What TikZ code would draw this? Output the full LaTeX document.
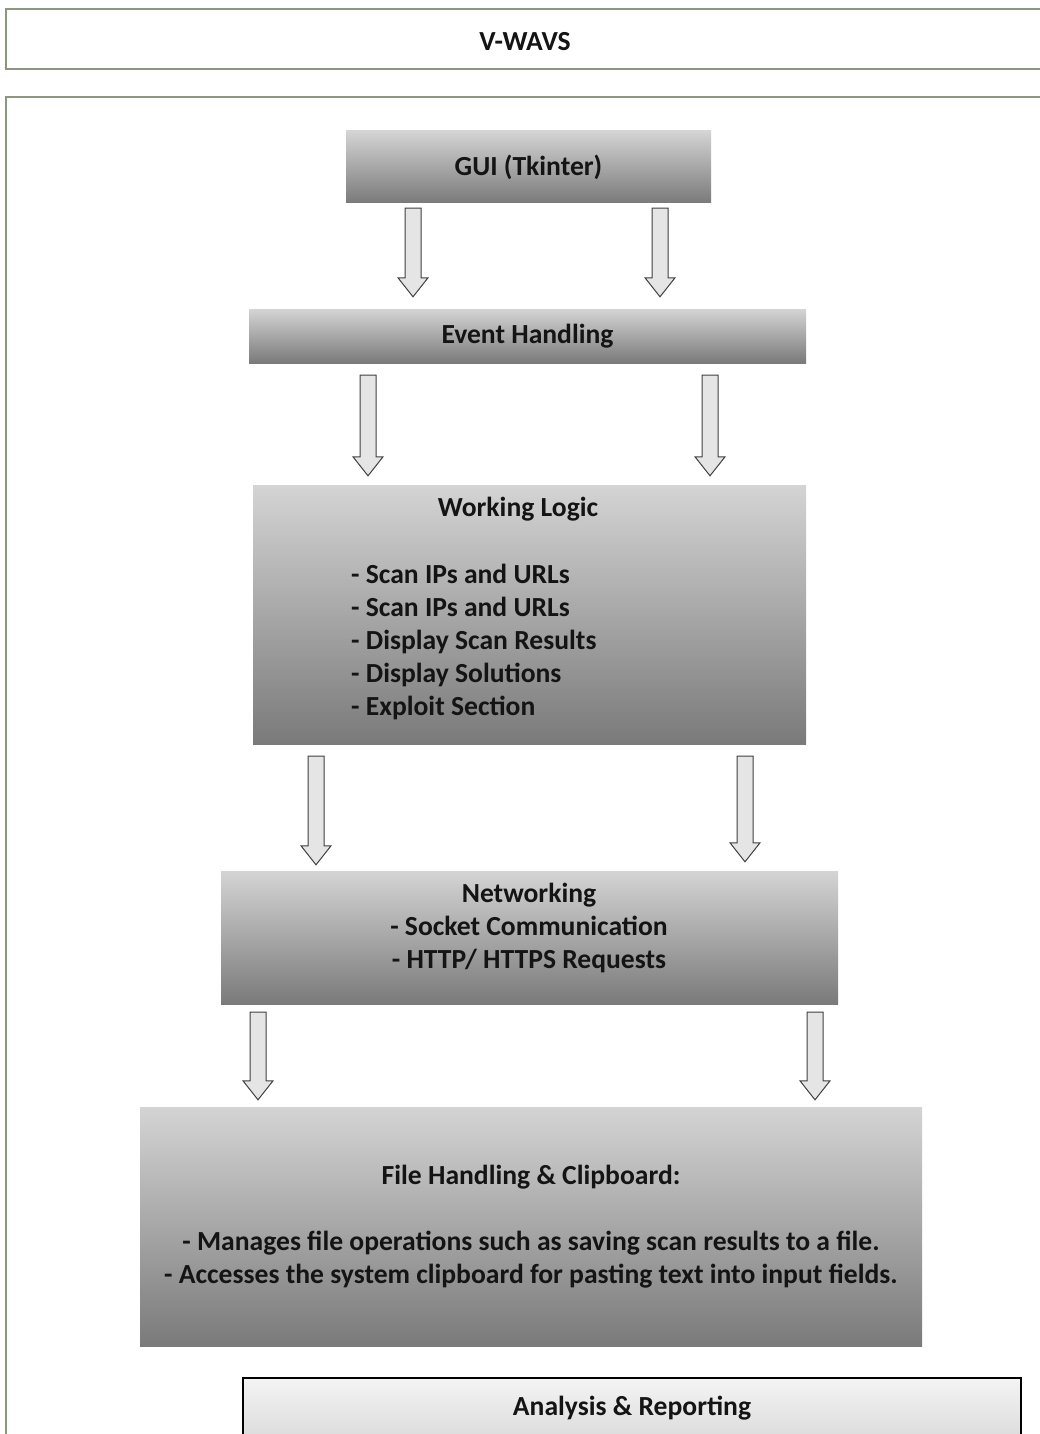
\documentclass[tikz,border=0pt]{standalone}
\usepackage{fontspec}
\setmainfont{Carlito}
\usetikzlibrary{calc}
\definecolor{frame}{RGB}{138,152,128}
\definecolor{boxtop}{RGB}{212,212,212}
\definecolor{boxbot}{RGB}{122,122,122}
\definecolor{anatop}{RGB}{244,244,244}
\definecolor{anabot}{RGB}{212,212,212}
\tikzset{
  panel/.style={draw=frame, line width=1.6pt, fill=white},
  gbox/.style={rectangle, inner sep=0pt, top color=boxtop, bottom color=boxbot, draw=none},
  lbl/.style={inner sep=0pt, font=\bfseries\fontsize{27.6}{33}\selectfont, align=center, text=black!92},
  bigarrow/.style={draw=black!75, line width=1pt, fill=black!10, line join=miter,
    to path={let \p1=(\tikztostart), \p2=(\tikztotarget) in
      (\x1-8pt,\y1) -- (\x1+8pt,\y1) -- (\x1+8pt,\y2+19pt) -- (\x1+15pt,\y2+19pt)
      -- (\x1,\y2) -- (\x1-15pt,\y2+19pt) -- (\x1-8pt,\y2+19pt) -- cycle}},
}
\begin{document}
\begin{tikzpicture}[x=1pt,y=-1pt]
\useasboundingbox (0,0) rectangle (1039,1434);
\fill[white] (0,0) rectangle (1039,1434);
% panels
\draw[panel] (6,9) rectangle (1060,69);
\node[lbl] (title) at (525,42) {V-WAVS};
\draw[panel] (6,97) rectangle (1060,1460);
% boxes
\node[gbox, minimum width=365pt, minimum height=72pt] (gui) at (528.5,167) {};
\node[lbl] at (gui.center) {GUI (Tkinter)};
\node[gbox, minimum width=557pt, minimum height=54pt] (evt) at (527.5,336) {};
\node[lbl] at (evt.center) {Event Handling};
\node[gbox, minimum width=553pt, minimum height=259pt] (wl) at (529.5,614.5) {};
\node[lbl] (wlt) at (518,509) {Working Logic};
\node[lbl, anchor=west, align=left] (wlb) at (351,641.5) {- Scan IPs and URLs\\- Scan IPs and URLs\\- Display Scan Results\\- Display Solutions\\- Exploit Section};
\node[gbox, minimum width=617pt, minimum height=133pt] (net) at (529.5,937.5) {};
\node[lbl] (nett) at (529,928) {Networking\\- Socket Communication\\- HTTP/ HTTPS Requests};
\node[gbox, minimum width=782pt, minimum height=239pt] (file) at (531,1226.5) {};
\node[lbl] (filet) at (531,1227) {File Handling \& Clipboard:\\[33pt]- Manages file operations such as saving scan results to a file.\\- Accesses the system clipboard for pasting text into input fields.};
\node[rectangle, draw=black, line width=1.4pt, top color=anatop, bottom color=anabot, minimum width=778pt, minimum height=80pt] (ana) at (632,1418) {};
\node[lbl] (anat) at (632,1408) {Analysis \& Reporting};
% arrows
\draw[bigarrow] ([xshift=-115.5pt,yshift=-5pt]gui.south) to ([xshift=-114.5pt,yshift=12pt]evt.north);
\draw[bigarrow] ([xshift=131.5pt,yshift=-5pt]gui.south) to ([xshift=132.5pt,yshift=12pt]evt.north);
\draw[bigarrow] ([xshift=-159.5pt,yshift=-12pt]evt.south) to ([xshift=-161.5pt,yshift=9pt]wl.north);
\draw[bigarrow] ([xshift=182.5pt,yshift=-12pt]evt.south) to ([xshift=180.5pt,yshift=9pt]wl.north);
\draw[bigarrow] ([xshift=-213.5pt,yshift=-12pt]wl.south) to ([xshift=-212.5pt,yshift=6pt]net.north);
\draw[bigarrow] ([xshift=215.5pt,yshift=-12pt]wl.south) to ([xshift=215.5pt,yshift=9pt]net.north);
\draw[bigarrow] ([xshift=-271.5pt,yshift=-8pt]net.south) to ([xshift=-273pt,yshift=7pt]file.north);
\draw[bigarrow] ([xshift=285.5pt,yshift=-8pt]net.south) to ([xshift=284pt,yshift=7pt]file.north);
\end{tikzpicture}
\end{document}
